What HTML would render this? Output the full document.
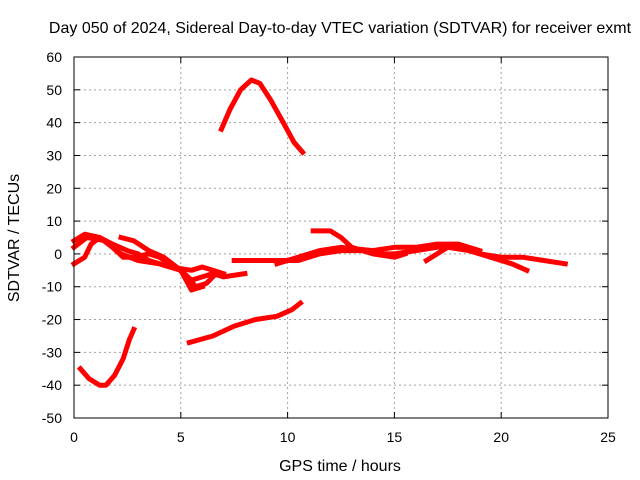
<!DOCTYPE html>
<html><head><meta charset="utf-8"><style>
body{margin:0;background:#fff;}
svg{display:block;font-family:"Liberation Sans",Arial,sans-serif;font-size:14px;}
.big{font-size:16px;}
</style></head><body>
<svg id="chart" width="640" height="480" xmlns="http://www.w3.org/2000/svg">
<rect width="640" height="480" fill="#fff"/>
<text class="big" x="340" y="33" text-anchor="middle">Day 050 of 2024, Sidereal Day-to-day VTEC variation (SDTVAR) for receiver exmt</text>
<g id="grid"></g>
<g id="ticks"></g>
<g id="series"></g>
<rect x="74" y="57" width="534" height="361" fill="none" stroke="#000" stroke-width="1"/>
<text class="big" x="340" y="471" text-anchor="middle">GPS time / hours</text>
<text class="big" transform="translate(19,238) rotate(-90)" text-anchor="middle">SDTVAR / TECUs</text>
</svg>
<script>
const xTicks=[0,5,10,15,20,25];
const yTicks=[60,50,40,30,20,10,0,-10,-20,-30,-40,-50];
const arcTop=[[6.9,38],[7.3,44],[7.8,50],[8.3,53],[8.7,52],[9.2,47],[9.8,40],[10.3,34],[10.7,31]];
const lowLeft=[[0.3,-35],[0.7,-38],[1.2,-40],[1.5,-40],[1.9,-37],[2.3,-32],[2.6,-26],[2.8,-23]];
const risingLine=[[5.4,-27],[6.5,-25],[7.5,-22],[8.5,-20],[9.5,-19],[10.2,-17],[10.6,-15]];
const curveA=[[0,-3],[0.5,-1],[0.8,3],[1.2,5],[1.8,2],[2.3,-1],[2.8,-1],[3.5,0],[4,-1],[4.5,-3],[5,-5],[5.5,-8],[6,-7],[6.5,-6],[7,-7],[8,-6]];
const curveB=[[0,4],[0.5,6],[1.2,5],[1.8,3],[2.5,1],[3,0],[3.5,-2],[4.5,-4],[5.5,-5],[6,-4],[6.5,-5],[7,-6]];
const curveC=[[2.2,5],[2.8,4],[3.5,1],[4.2,-1],[4.8,-4],[5.3,-7],[5.7,-10],[6.2,-9],[6.5,-7]];
const curveD=[[0,2],[0.6,5],[1.5,4],[2.2,0],[3,-2],[4,-3],[5,-5],[5.5,-11],[6,-10]];
const curveE=[[7.5,-2],[8.5,-2],[9.5,-2],[10.5,-2],[11.5,0],[12.5,1],[13.5,1],[14.5,0],[15,0],[16,1],[17,2],[18,2],[19,0],[20,-1],[21,-1],[22,-2],[23,-3]];
const curveF=[[11.2,7],[12,7],[12.5,5],[13,2],[14,0],[15,-1],[15.5,0]];
const curveG=[[16.5,-2],[17,0],[17.5,2],[18.5,1],[19.5,-1],[20.5,-3],[21.2,-5]];
const curveH=[[9.5,-3],[10.5,-1],[11.5,1],[12.5,2],[14,1],[15,2],[16,2],[17,3],[18,3],[19,1]];
const allSeries=[arcTop,lowLeft,risingLine,curveA,curveB,curveC,curveD,curveE,curveF,curveG,curveH];
const NS="http://www.w3.org/2000/svg";
function xs(t){return 74+(t-0)/25*534;}
function ys(v){return 418-(v+50)/110*361;}
const grid=document.getElementById('grid'),ticks=document.getElementById('ticks'),ser=document.getElementById('series');
function mk(tag,attrs,parent){const e=document.createElementNS(NS,tag);for(const k in attrs)e.setAttribute(k,attrs[k]);parent.appendChild(e);return e;}
xTicks.forEach(t=>{const x=xs(t);
 if(t>0&&t<25){const g=mk('line',{x1:x,x2:x,y1:57,y2:418,stroke:'#a0a0a0','stroke-dasharray':'2,3'},grid);}
 const l=mk('line',{x1:x,x2:x,y1:418,y2:412,stroke:'#000'},ticks);
 const l2=mk('line',{x1:x,x2:x,y1:57,y2:63,stroke:'#000'},ticks);
 const tx=mk('text',{x:x,y:442,'text-anchor':'middle'},ticks);tx.textContent=t;});
yTicks.forEach(v=>{const y=ys(v);
 if(v<60&&v>-50){const g=mk('line',{x1:74,x2:608,y1:y,y2:y,stroke:'#a0a0a0','stroke-dasharray':'2,3'},grid);}
 const l=mk('line',{x1:74,x2:80,y1:y,y2:y,stroke:'#000'},ticks);
 const l2=mk('line',{x1:602,x2:608,y1:y,y2:y,stroke:'#000'},ticks);
 const tx=mk('text',{x:62,y:y+5,'text-anchor':'end'},ticks);tx.textContent=v;});
allSeries.forEach(s=>{const d=s.map((p,i)=>(i?'L':'M')+xs(p[0]).toFixed(1)+','+ys(p[1]).toFixed(1)).join('');
 const p=mk('path',{d:d,fill:'none',stroke:'#ff0000','stroke-width':5,'stroke-linejoin':'round','stroke-linecap':'square'},ser);
 
 });
</script>
</body></html>
